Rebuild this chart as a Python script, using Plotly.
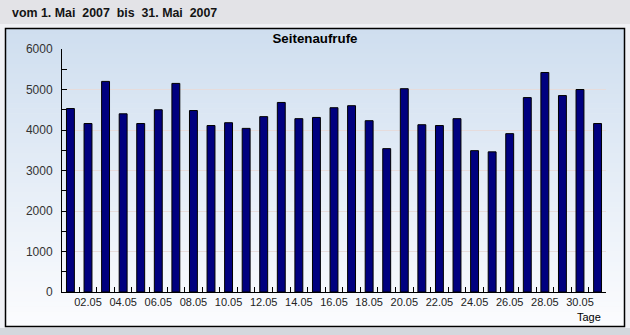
import plotly.graph_objects as go

days = list(range(1, 32))
day_labels = [f"{d:02d}.05" for d in days]
seitenaufrufe = [4530, 4160, 5200, 4400, 4160, 4500, 5150, 4480, 4110, 4180,
                 4040, 4330, 4680, 4280, 4310, 4550, 4600, 4230, 3540, 5020,
                 4130, 4110, 4280, 3490, 3460, 3910, 4800, 5420, 4850, 5000, 4160]
y_ticks = [0, 1000, 2000, 3000, 4000, 5000, 6000]
header_text = "vom 1. Mai\u00a0\u00a02007\u00a0\u00a0bis\u00a0\u00a031. Mai\u00a0\u00a02007"
chart_title = "Seitenaufrufe"
x_title = "Tage"

W, H = 630, 335
L, R, T, B = 62, 24, 49, 43
PW, PH = W - L - R, H - T - B

def px(x):
    return (x - L) / PW

def py(y):
    return (H - B - y) / PH

shapes = []
shapes.append(dict(type="rect", xref="paper", yref="paper", layer="below",
                   x0=px(0), x1=px(W), y0=py(24), y1=py(H),
                   fillcolor="#f0f1f5", line=dict(width=0)))
shapes.append(dict(type="rect", xref="paper", yref="paper", layer="below",
                   x0=px(0), x1=px(W), y0=py(328), y1=py(H),
                   fillcolor="#d4d8dd", line=dict(width=0)))
top_c = (207, 222, 239)
bot_c = (251, 252, 254)
n = 60
y_top, y_bot = 29, 326
for i in range(n):
    t = i / (n - 1)
    c = tuple(round(top_c[k] + (bot_c[k] - top_c[k]) * t) for k in range(3))
    ya = y_top + (y_bot - y_top) * i / n
    yb = y_top + (y_bot - y_top) * (i + 1) / n + 0.6
    shapes.append(dict(type="rect", xref="paper", yref="paper", layer="below",
                       x0=px(6), x1=px(624), y0=py(ya), y1=py(min(yb, y_bot)),
                       fillcolor="rgb(%d,%d,%d)" % c, line=dict(width=0)))
shapes.append(dict(type="rect", xref="paper", yref="paper", layer="below",
                   x0=px(5.5), x1=px(624.5), y0=py(28.5), y1=py(326.5),
                   fillcolor="rgba(0,0,0,0)", line=dict(color="black", width=1.5)))

fig = go.Figure()
fig.add_trace(go.Bar(
    x=days, y=seitenaufrufe, width=0.45,
    marker=dict(color="#00007f", line=dict(color="black", width=1)),
    hoverinfo="skip"))

fig.update_layout(
    width=W, height=H,
    margin=dict(l=L, r=R, t=T, b=B, pad=0),
    paper_bgcolor="#e3e3e7",
    plot_bgcolor="rgba(0,0,0,0)",
    showlegend=False,
    shapes=shapes,
    font=dict(family="Liberation Sans, Arial, sans-serif", size=11, color="#222"),
    title=dict(text="<b>" + chart_title + "</b>", xref="container", yref="container",
               x=0.5, xanchor="center", y=1 - 38.5 / H, yanchor="middle",
               font=dict(size=13.3, color="black", family="Liberation Sans, Arial, sans-serif")),
    bargap=0.5,
)

fig.update_xaxes(
    range=[0.52, 31.48],
    tickvals=days[1::2], ticktext=day_labels[1::2],
    ticks="", showgrid=False, zeroline=False,
    showline=True, linecolor="black", linewidth=1,
    tickfont=dict(size=11, color="#222"),
    minor=dict(tick0=0.5, dtick=1, ticks="inside", ticklen=5, tickcolor="black",
               showgrid=False),
)
fig.update_yaxes(
    range=[0, 6000],
    tickvals=y_ticks, ticktext=[str(v) for v in y_ticks],
    ticks="inside", ticklen=5, tickcolor="black",
    showgrid=True, gridcolor="#e6dcdc", gridwidth=1,
    zeroline=False, showline=True, linecolor="black", linewidth=1,
    tickfont=dict(size=12, color="#333"),
    ticklabelstandoff=6,
    minor=dict(tick0=0, dtick=500, ticks="inside", ticklen=5, tickcolor="black",
               showgrid=False),
)

fig.add_annotation(text="<b>" + header_text + "</b>", xref="paper", yref="paper",
                   x=px(10), y=py(13), xanchor="left", yanchor="middle",
                   showarrow=False, font=dict(size=12.4, color="#141414",
                                              family="Liberation Sans, Arial, sans-serif"))
fig.add_annotation(text=x_title, xref="paper", yref="paper",
                   x=px(603), y=py(316.5), xanchor="right", yanchor="middle",
                   showarrow=False, font=dict(size=11, color="black"))

fig.write_html("out.html")
